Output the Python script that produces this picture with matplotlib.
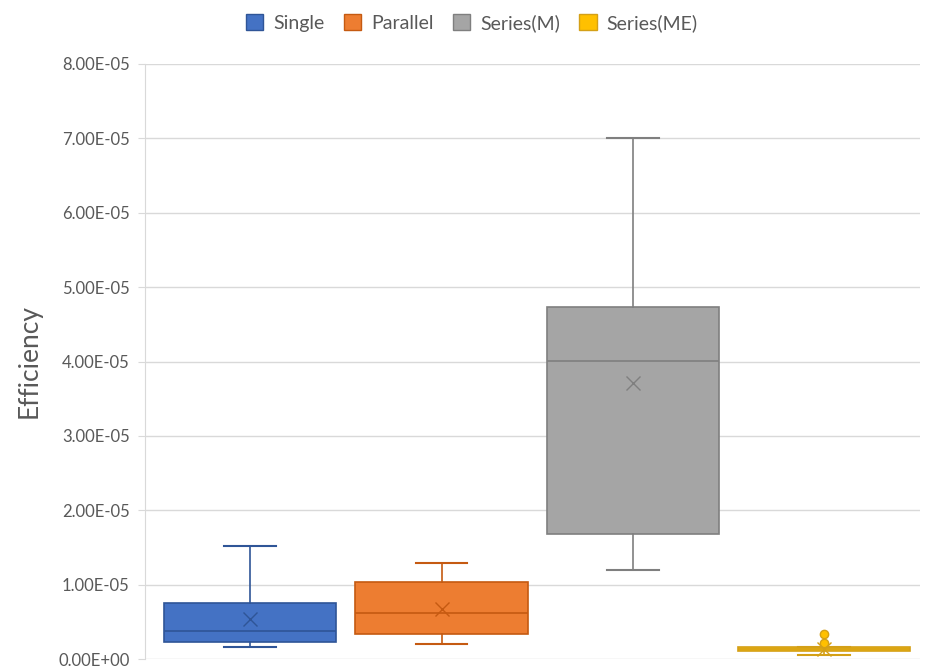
import matplotlib.pyplot as plt
from matplotlib.ticker import FuncFormatter, MultipleLocator
from matplotlib.patches import Patch

plt.rcParams['font.family'] = ['Lato', 'DejaVu Sans']

# 상자그림 통계값
labels = ['Single', 'Parallel', 'Series(M)', 'Series(ME)']
whislo = [0.16e-5, 0.20e-5, 1.20e-5, 0.05e-5]
q1 = [0.23e-5, 0.34e-5, 1.68e-5, 0.11e-5]
med = [0.38e-5, 0.62e-5, 4.01e-5, 0.13e-5]
q3 = [0.75e-5, 1.03e-5, 4.73e-5, 0.16e-5]
whishi = [1.52e-5, 1.29e-5, 7.00e-5, 0.16e-5]
means = [0.54e-5, 0.67e-5, 3.71e-5, 0.13e-5]
fliers = [[], [], [], [0.22e-5, 0.33e-5]]

face = ['#4472C4', '#ED7D31', '#A5A5A5', '#FFC000']
edge = ['#2F5597', '#C55A11', '#7F7F7F', '#D4A017']

fig = plt.figure(figsize=(9.25, 6.69), dpi=100)
ax = fig.add_axes([145 / 925, 10 / 669, 775 / 925, 595 / 669])

for i in range(len(labels)):
    st = [dict(label=labels[i], whislo=whislo[i], q1=q1[i], med=med[i],
               q3=q3[i], whishi=whishi[i], mean=means[i], fliers=fliers[i])]
    ax.bxp(st, positions=[i], widths=0.9, patch_artist=True, showmeans=True,
           boxprops=dict(facecolor=face[i], edgecolor=edge[i], linewidth=1.2),
           medianprops=dict(color=edge[i], linewidth=1.2),
           whiskerprops=dict(color=edge[i], linewidth=1.2),
           capprops=dict(color=edge[i], linewidth=1.5),
           capwidths=0.27,
           meanprops=dict(marker='x', markeredgecolor=edge[i], markersize=10,
                          markeredgewidth=1.0),
           flierprops=dict(marker='o', markerfacecolor=face[i],
                           markeredgecolor=edge[i], markersize=6))

ax.set_xlim(-0.55, 3.5)
ax.set_ylim(0, 8e-5)
ax.yaxis.set_major_locator(MultipleLocator(1e-5))
ax.yaxis.set_major_formatter(FuncFormatter(lambda v, p: '{:.2E}'.format(v)))
ax.grid(axis='y', color='#D9D9D9', linewidth=1)
ax.set_axisbelow(True)
ax.set_xticks([])
for s in ['top', 'right', 'bottom']:
    ax.spines[s].set_visible(False)
ax.spines['left'].set_color('#D9D9D9')
ax.tick_params(axis='y', colors='#D9D9D9', labelcolor='#595959', labelsize=12, length=5, pad=6)
ax.set_ylabel('Efficiency', fontsize=19, color='#595959', labelpad=12)

handles = [Patch(facecolor=face[i], edgecolor=edge[i], label=labels[i]) for i in range(4)]
fig.legend(handles=handles, loc='upper center', bbox_to_anchor=(0.51, 1.005), ncol=4,
           frameon=False, fontsize=14, handlelength=0.9, handleheight=0.9,
           columnspacing=1.0, handletextpad=0.5, labelcolor='#595959')

plt.savefig('out.png')
